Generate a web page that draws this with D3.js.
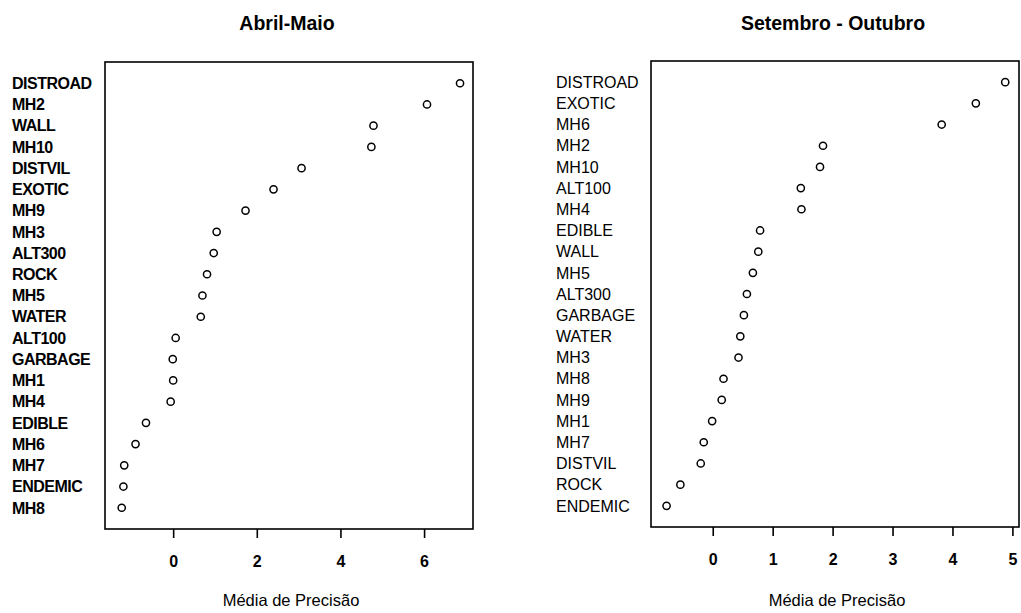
<!DOCTYPE html>
<html>
<head>
<meta charset="utf-8">
<script src="https://cdn.jsdelivr.net/npm/d3@7"></script>
<style>
    body { margin: 0; background: #fff; }
    svg { display: block; font-family: "Liberation Sans", Arial, sans-serif; }
</style>
</head>
<body>
<div id="chart"></div>
<script>

// dotchart data, top row first
const leftLabels = ["DISTROAD", "MH2", "WALL", "MH10", "DISTVIL", "EXOTIC", "MH9", "MH3", "ALT300", "ROCK", "MH5",
    "WATER", "ALT100", "GARBAGE", "MH1", "MH4", "EDIBLE", "MH6", "MH7", "ENDEMIC", "MH8"]
const leftValues = [6.86, 6.07, 4.79, 4.74, 3.07, 2.40, 1.73, 1.04, 0.97, 0.81, 0.70,
    0.66, 0.06, -0.01, 0.0, -0.06, -0.65, -0.90, -1.17, -1.19, -1.23]
const leftTicks = [0, 2, 4, 6]

const rightLabels = ["DISTROAD", "EXOTIC", "MH6", "MH2", "MH10", "ALT100", "MH4", "EDIBLE", "WALL", "MH5", "ALT300",
    "GARBAGE", "WATER", "MH3", "MH8", "MH9", "MH1", "MH7", "DISTVIL", "ROCK", "ENDEMIC"]
const rightValues = [4.88, 4.39, 3.82, 1.84, 1.79, 1.47, 1.48, 0.79, 0.76, 0.67, 0.57,
    0.52, 0.46, 0.43, 0.18, 0.15, -0.01, -0.15, -0.20, -0.54, -0.77]
const rightTicks = [0, 1, 2, 3, 4, 5]

const width = 1021
const height = 613

const svg = d3.select("#chart").append("svg")
    .attr("width", width)
    .attr("height", height)

function drawPanel(opts) {
    const g = svg.append("g")
    const n = opts.labels.length

    const x = d3.scaleLinear().domain(opts.xDomain).range([opts.left, opts.right])
    const y = d3.scaleLinear().domain([0, n + 1]).range([opts.bottom, opts.top])

    // title
    g.append("text")
        .attr("x", (opts.left + opts.right) / 2 - 2)
        .attr("y", 30)
        .attr("text-anchor", "middle")
        .attr("font-size", 19.5)
        .attr("font-weight", "bold")
        .text(opts.title)

    // frame
    g.append("rect")
        .attr("x", opts.left)
        .attr("y", opts.top)
        .attr("width", opts.right - opts.left)
        .attr("height", opts.bottom - opts.top)
        .attr("fill", "none")
        .attr("stroke", "#000")
        .attr("stroke-width", 1.6)

    // x axis
    const axis = g.append("g")
        .attr("transform", `translate(0,${opts.bottom})`)
        .call(d3.axisBottom(x).tickValues(opts.ticks).tickSize(9).tickFormat(d3.format("d")))
    axis.attr("font-size", 16).attr("font-family", null).attr("font-weight", "bold")
    axis.select(".domain").remove()
    axis.selectAll(".tick line").attr("stroke-width", 1.6)
    axis.selectAll(".tick text")
        .attr("y", 27)
        .style("font-size", "16px")
        .style("font-weight", "bold")

    g.append("text")
        .attr("x", (opts.left + opts.right) / 2 + 2)
        .attr("y", 606)
        .attr("text-anchor", "middle")
        .attr("font-size", 16.5)
        .text("Média de Precisão")

    // row labels
    g.selectAll(".lab")
        .data(opts.labels)
        .join("text")
            .attr("class", "lab")
            .attr("x", opts.labelX)
            .attr("y", (d, i) => y(n - i))
            .attr("dy", "0.36em")
            .attr("font-size", opts.labelSize)
            .attr("font-weight", opts.labelWeight)
            .attr("letter-spacing", opts.labelSpacing)
            .text(d => d)

    // points
    g.selectAll("circle")
        .data(opts.values)
        .join("circle")
            .attr("cx", d => x(d))
            .attr("cy", (d, i) => y(n - i))
            .attr("r", 3.6)
            .attr("fill", "none")
            .attr("stroke", "#000")
            .attr("stroke-width", 1.5)
}

drawPanel({
    title: "Abril-Maio",
    labels: leftLabels,
    values: leftValues,
    ticks: leftTicks,
    xDomain: [-1.63, 7.17],
    left: 105, right: 473, top: 62, bottom: 529,
    labelX: 12, labelSize: 16, labelWeight: "bold", labelSpacing: -0.5
})

drawPanel({
    title: "Setembro - Outubro",
    labels: rightLabels,
    values: rightValues,
    ticks: rightTicks,
    xDomain: [-1.03, 5.11],
    left: 651, right: 1019, top: 61, bottom: 527,
    labelX: 556, labelSize: 16, labelWeight: "normal", labelSpacing: 0
})

</script>
</body>
</html>
